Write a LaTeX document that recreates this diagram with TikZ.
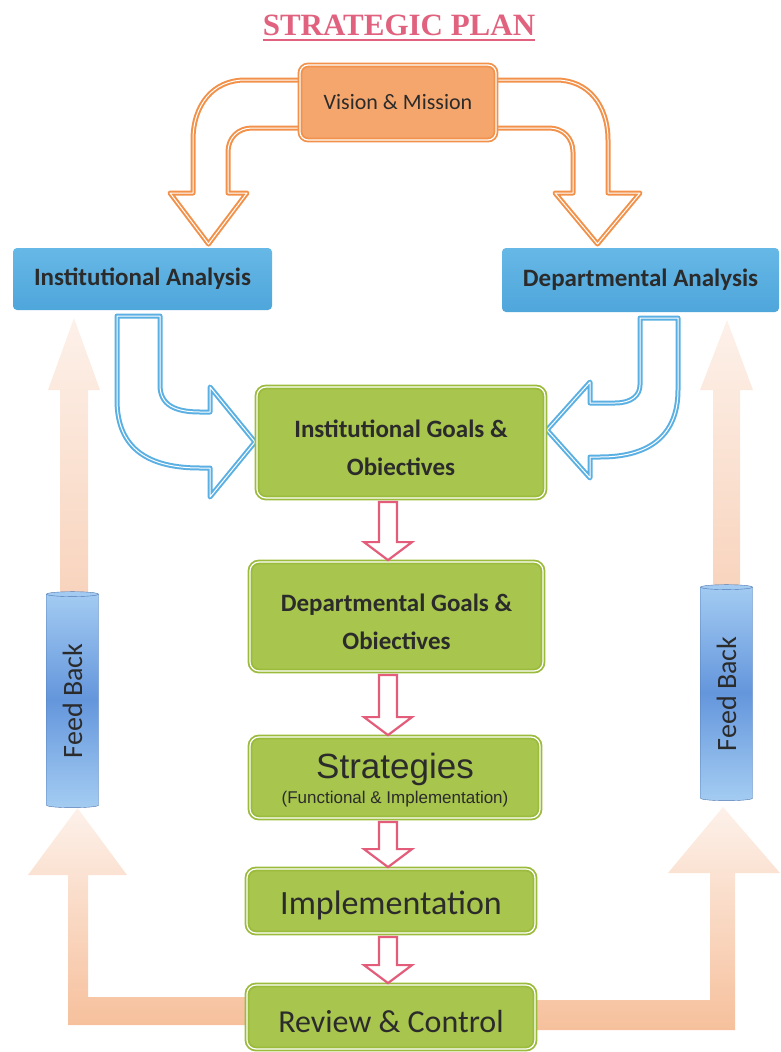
\documentclass[tikz,border=0pt]{standalone}
\usepackage{fontspec}
\setmainfont{Carlito}
\newfontfamily\arialfont{Liberation Sans}
\newfontfamily\timesfont{Liberation Serif}
\usetikzlibrary{shapes.geometric,calc}
\definecolor{textgray}{HTML}{2B2B2B}
\definecolor{titlered}{HTML}{E0627E}
\definecolor{orangefill}{HTML}{F5A66C}
\definecolor{orangeline}{HTML}{F2914A}
\definecolor{bluetop}{HTML}{66B8E6}
\definecolor{bluebot}{HTML}{4FA6DB}
\definecolor{blueline}{HTML}{5AB0E2}
\definecolor{greenfill}{HTML}{A8C54D}
\definecolor{greenline}{HTML}{9BBB3C}
\definecolor{redline}{HTML}{E35C7A}
\definecolor{peach}{HTML}{F6C09C}
\definecolor{peachmid}{HTML}{F8D3BC}
\definecolor{peachpale}{HTML}{FDF1EA}
\definecolor{cyllight}{HTML}{A4CCF2}
\definecolor{cylblue}{HTML}{6496DC}
\begin{document}
\begin{tikzpicture}[x=1pt,y=-1pt,
  every node/.style={inner sep=0pt,text=textgray},
  greenbox/.style={rectangle,rounded corners=9pt,fill=greenfill,draw=greenline,
    line width=1.8pt,double=white,double distance=1.2pt,align=center},
  bluebox/.style={rectangle,rounded corners=4pt,top color=bluetop,bottom color=bluebot,
    font=\bfseries\fontsize{25}{30}\selectfont},
  orangebox/.style={rectangle,rounded corners=8pt,fill=orangefill,draw=orangeline,
    line width=1.8pt,double=white,double distance=1.2pt},
  bandarrow/.style={fill=white,line width=2pt,double=white,double distance=1pt,line join=round},
  redarrow/.style={draw=redline,fill=white,line width=2.2pt,line join=miter},
  feedback/.style={cylinder,shape border rotate=90,aspect=0.25,minimum width=52,minimum height=216,
    top color=cyllight,bottom color=cyllight,middle color=cylblue,
    draw=cylblue!80!black,line width=0.4pt,font=\fontsize{28}{30}\selectfont}
]
\useasboundingbox (0,0) rectangle (781,1052);

% feed back loops
\shade[top color=peachpale,bottom color=peach] (245,997) -- (88,997) -- (88,875) -- (127,875)
  -- (77.5,808) -- (28,875) -- (68,875) -- (68,1025) -- (245,1025) -- cycle;
\shade[top color=peachpale,bottom color=peach] (537,1000) -- (710,1000) -- (710,873) -- (668,873)
  -- (723,807) -- (780,873) -- (735,873) -- (735,1030) -- (537,1030) -- cycle;
\shade[top color=peachpale,bottom color=peachmid] (60,600) -- (60,390) -- (48,390) -- (74,318)
  -- (100,390) -- (88,390) -- (88,600) -- cycle;
\shade[top color=peachpale,bottom color=peachmid] (713,596) -- (713,390) -- (700,390) -- (727,320)
  -- (753,390) -- (740,390) -- (740,596) -- cycle;
\node[feedback] (fb1) at (72.5,701) {\rotatebox{90}{Feed Back}};
\node[feedback] (fb2) at (726.5,694) {\rotatebox{90}{Feed Back}};

% vision arrows
\draw[bandarrow,draw=orangeline] (305,80) -- (245,80) .. controls (213,80) and (193,105) .. (193,140)
  -- (193,193) -- (170,193) -- (208.5,244) -- (247,193) -- (228,193) -- (228,152)
  .. controls (228,138) and (238,128) .. (252,128) -- (305,128) -- cycle;
\draw[bandarrow,draw=orangeline] (492,80) -- (556,80) .. controls (588,80) and (608,105) .. (608,140)
  -- (608,193) -- (640,193) -- (597.5,244) -- (555,193) -- (573,193) -- (573,152)
  .. controls (573,138) and (563,128) .. (549,128) -- (492,128) -- cycle;

% analysis arrows
\draw[bandarrow,draw=blueline] (117,316) -- (117,400) .. controls (117,450) and (150,468) .. (200,468)
  -- (210,468) -- (210,497) -- (255,442) -- (210,387) -- (210,412) -- (200,412)
  .. controls (175,412) and (160,405) .. (160,385) -- (160,316) -- cycle;
\draw[bandarrow,draw=blueline] (678,318) -- (678,390) .. controls (678,435) and (650,457) .. (600,457)
  -- (590,457) -- (590,478) -- (547,430) -- (590,382) -- (590,403) -- (615,403)
  .. controls (632,403) and (640,395) .. (640,385) -- (640,318) -- cycle;

\node[font=\timesfont\bfseries\fontsize{31}{31}\selectfont,text=titlered,anchor=base] (title) at (399,35) {STRATEGIC PLAN};
\draw[titlered,line width=1.8pt] ([yshift=-5pt]title.base west) -- ([yshift=-5pt]title.base east);

\node[orangebox,minimum width=196,minimum height=75,font=\fontsize{22}{26}\selectfont] (vm) at (398,102.5) {Vision \& Mission};
\node[bluebox,minimum width=259,minimum height=62] (ia) at (142.5,279) {Institutional Analysis};
\node[bluebox,minimum width=277,minimum height=64] (da) at (640.5,280) {Departmental Analysis};

\node[greenbox,minimum width=288,minimum height=111,font=\bfseries\fontsize{25}{38}\selectfont] (g1) at (401,442.5) {\rule{0pt}{29pt}Institutional Goals \&\\Obiectives};
\node[greenbox,minimum width=293,minimum height=109,font=\bfseries\fontsize{25}{38}\selectfont] (g2) at (396.5,616.5) {\rule{0pt}{29pt}Departmental Goals \&\\Obiectives};
\node[greenbox,minimum width=290,minimum height=81] (g3) at (395,777.5) {};
\node[font=\arialfont\fontsize{35}{35}\selectfont,anchor=base] (g3a) at (395,778) {Strategies};
\node[font=\arialfont\fontsize{17}{17}\selectfont,anchor=base] (g3b) at (395,803) {(Functional \& Implementation)};
\node[greenbox,minimum width=288,minimum height=64,font=\fontsize{34}{36}\selectfont] (g4) at (391,901) {\rule{0pt}{33pt}Implementation};
\node[greenbox,minimum width=288,minimum height=64,font=\fontsize{32}{34}\selectfont] (g5) at (391,1017) {\rule{0pt}{32pt}Review \& Control};

\foreach \a/\b in {g1/g2,g2/g3,g3/g4,g4/g5}
  \draw[redarrow] let \p1=(\a.south), \p2=(\b.north) in
    (379pt,\y1-3pt) -- (397pt,\y1-3pt) -- (397pt,\y2+19pt) -- (412pt,\y2+19pt)
    -- (388pt,\y2+1pt) -- (364pt,\y2+19pt) -- (379pt,\y2+19pt) -- cycle;
\end{tikzpicture}
\end{document}
